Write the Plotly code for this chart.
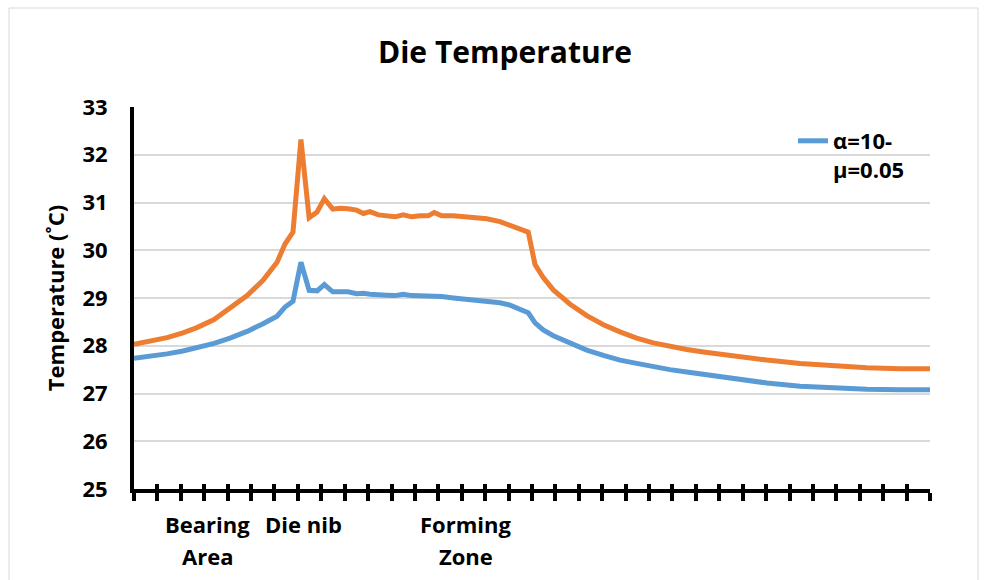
import plotly.graph_objects as go

# Position along the die (x-axis tick units) and temperatures
position = [0.00, 0.68, 1.41, 2.09, 2.69, 3.42, 4.10, 4.83, 5.51, 6.11, 6.45, 6.79,
            7.13, 7.48, 7.82, 8.13, 8.49, 8.80, 9.14, 9.51, 9.80, 10.08, 10.44,
            10.79, 11.15, 11.50, 11.86, 12.22, 12.57, 12.82, 13.14, 13.64, 14.35,
            15.07, 15.63, 16.06, 16.49, 16.84, 17.13, 17.48, 17.91, 18.63, 19.34,
            20.05, 20.76, 21.47, 22.18, 22.89, 23.61, 24.32, 25.03, 25.60, 27.03,
            28.45, 29.87, 31.30, 32.72, 34.00]

temp_orange = [28.03, 28.09, 28.17, 28.27, 28.38, 28.55, 28.78, 29.05, 29.37, 29.75, 30.13, 30.38,
               32.32, 30.68, 30.80, 31.08, 30.86, 30.88, 30.87, 30.84, 30.77, 30.81, 30.74,
               30.73, 30.70, 30.74, 30.70, 30.72, 30.72, 30.79, 30.72, 30.72, 30.69,
               30.66, 30.60, 30.53, 30.45, 30.38, 29.70, 29.43, 29.17, 28.87, 28.63,
               28.44, 28.29, 28.16, 28.06, 27.98, 27.92, 27.87, 27.82, 27.79, 27.70,
               27.63, 27.58, 27.54, 27.52, 27.52]

temp_blue = [27.74, 27.78, 27.83, 27.89, 27.96, 28.05, 28.16, 28.30, 28.46, 28.62, 28.81, 28.93,
             29.75, 29.16, 29.15, 29.28, 29.13, 29.14, 29.13, 29.09, 29.10, 29.08, 29.08,
             29.06, 29.05, 29.08, 29.05, 29.05, 29.05, 29.04, 29.03, 29.00, 28.97,
             28.94, 28.90, 28.85, 28.77, 28.69, 28.48, 28.33, 28.21, 28.05, 27.91,
             27.80, 27.70, 27.63, 27.56, 27.50, 27.45, 27.40, 27.36, 27.31, 27.22,
             27.15, 27.11, 27.09, 27.08, 27.08]

legend_name = "α=10-<br>μ=0.05"
zone_labels = [["Bearing", "Area"], ["Die nib"], ["Forming", "Zone"]]
zone_pos = [3.16, 7.22, 14.18]

y_range = [25, 33]
x_range = [0, 34]

BLUE = "#5B9BD5"
ORANGE = "#ED7D31"
FONT = "Open Sans"

fig = go.Figure()
fig.add_trace(go.Scatter(x=position, y=temp_orange, mode="lines",
                         line=dict(color=ORANGE, width=5), showlegend=False, name="orange"))
fig.add_trace(go.Scatter(x=position, y=temp_blue, mode="lines",
                         line=dict(color=BLUE, width=5), showlegend=True, name=legend_name))

W, H = 987, 580
L, R, T, B = 134, 57, 107, 91
pw, ph = W - L - R, H - T - B
bottom_px = H - B

def py(p):
    return (bottom_px - p) / ph

def px(p):
    return (p - L) / pw

annotations = []
line_y = [524, 556]
for label_lines, xpos in zip(zone_labels, zone_pos):
    for k, txt in enumerate(label_lines):
        annotations.append(dict(x=xpos, y=py(line_y[k]), xref="x", yref="paper",
                                text=txt, showarrow=False, xanchor="center", yanchor="middle",
                                font=dict(family=FONT, size=22, color="black", weight="bold")))

fig.update_layout(
    width=W, height=H,
    margin=dict(l=L, r=R, t=T, b=B),
    paper_bgcolor="white", plot_bgcolor="white",
    title=dict(text="Die Temperature", x=px(505), xref="paper", xanchor="center",
               y=1 - 52 / H, yanchor="middle",
               font=dict(family=FONT, size=30, color="black", weight="bold")),
    xaxis=dict(range=x_range, tick0=0, dtick=1, ticks="outside", ticklen=8, tickwidth=4,
               tickcolor="black", showticklabels=False, showgrid=False, zeroline=False,
               showline=True, linewidth=4, linecolor="black", fixedrange=True),
    xaxis2=dict(range=x_range, overlaying="x", anchor="y", side="bottom", tick0=0, dtick=1,
                ticks="inside", ticklen=5, tickwidth=4, tickcolor="black",
                showticklabels=False, showgrid=False, zeroline=False, showline=False),
    yaxis=dict(range=y_range, dtick=1, showgrid=True, gridcolor="#D9D9D9", gridwidth=2,
               zeroline=False, showline=True, linewidth=4, linecolor="black",
               ticks="", ticklabelstandoff=18,
               tickfont=dict(family=FONT, size=22, color="black", weight="bold"),
               title=dict(text="Temperature (˚C)", standoff=13,
                          font=dict(family=FONT, size=22, color="black", weight="bold"))),
    legend=dict(x=px(793), xanchor="left", y=py(120), yanchor="top", valign="top",
                bgcolor="rgba(0,0,0,0)",
                font=dict(family=FONT, size=22, color="black", weight="bold")),
    annotations=annotations,
    shapes=[dict(type="rect", xref="paper", yref="paper", x0=px(9), x1=px(978),
                 y0=py(600), y1=py(8), line=dict(color="#D9D9D9", width=1),
                 fillcolor="rgba(0,0,0,0)", layer="below")],
)

# invisible helper trace so the overlaid axis draws its inner tick marks
fig.add_trace(go.Scatter(x=[x_range[0]], y=[y_range[0]], xaxis="x2", mode="markers",
                         marker=dict(opacity=0), showlegend=False, hoverinfo="skip"))

fig.write_html("out.html")
